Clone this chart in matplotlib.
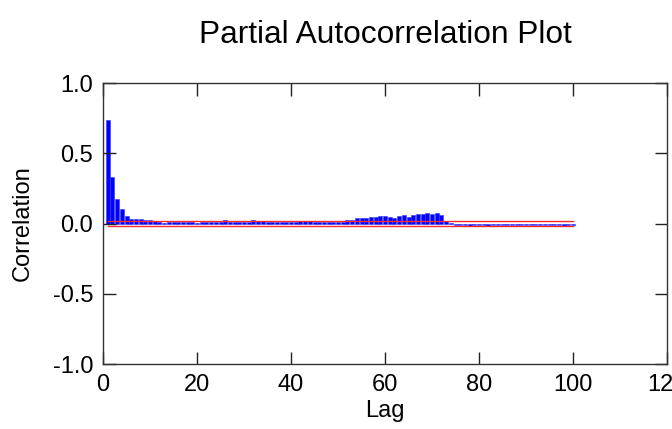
from matplotlib import pyplot as plt
import numpy as np

plt.rcParams["font.family"] = ["Liberation Sans", "DejaVu Sans"]
plt.rcParams["font.size"] = 17
plt.rc('xtick', direction='in', top=True, labelsize=17)
plt.rc('ytick', direction='in', right=True, labelsize=17)

# partial autocorrelation values, lags 1..100
lags = np.arange(1, 101)
pacf = [0.74, 0.33, 0.175, 0.104, 0.05, 0.034, 0.031, 0.031, 0.027, 0.026, 0.015,
        0.008, 0.006, 0.012, 0.011, 0.01, 0.012, 0.01, 0.009, 0.006, 0.01, 0.011,
        0.01, 0.012, 0.013,
        0.028,
        0.011, 0.01, 0.012, 0.011, 0.01,
        0.024, 0.018, 0.017,
        0.012, 0.011, 0.01, 0.011, 0.01, 0.012, 0.011,
        0.02, 0.021, 0.019,
        0.012, 0.013, 0.011, 0.014, 0.012, 0.013, 0.012,
        0.025, 0.024,
        0.037, 0.036, 0.038,
        0.046, 0.048, 0.05, 0.05, 0.049,
        0.042, 0.053, 0.06, 0.044, 0.063, 0.07, 0.07, 0.075, 0.066, 0.073, 0.06,
        0.018, 0.004,
        -0.01, -0.012, -0.011, -0.02, -0.012, -0.011, -0.013, -0.02, -0.012, -0.011,
        -0.012, -0.01, -0.013, -0.012, -0.011, -0.01, -0.012, -0.011, -0.009, -0.012,
        -0.01, -0.008, -0.011, -0.02, -0.012, -0.013]
conf = 0.015  # confidence band

fig = plt.figure(figsize=(6.72, 4.29), dpi=100)
ax = fig.add_axes([0.1533, 0.1515, 0.8393, 0.655])

ax.bar(lags, pacf, width=0.85, color='#0000ff', edgecolor='#3333ff', linewidth=0.4)
ax.plot([lags[0], lags[-1]], [conf, conf], color='#ff2a2a', lw=1)
ax.plot([lags[0], lags[-1]], [-conf, -conf], color='#ff2a2a', lw=1)

ax.set_xlim(0, 120)
ax.set_ylim(-1, 1)
ax.set_xticks(np.arange(0, 121, 20))
ax.set_yticks([-1, -0.5, 0, 0.5, 1])
ax.set_yticklabels(['-1.0', '-0.5', '0.0', '0.5', '1.0'])
ax.tick_params(length=9, width=1, pad=7, color='#222222')
for s in ax.spines.values():
    s.set_color('#333333')
    s.set_linewidth(1)

ax.set_xlabel('Lag', labelpad=3)
ax.set_ylabel('Correlation', labelpad=14)
ax.set_title('Partial Autocorrelation Plot', fontsize=22.8, pad=29)

plt.savefig('out.png', dpi=100)
